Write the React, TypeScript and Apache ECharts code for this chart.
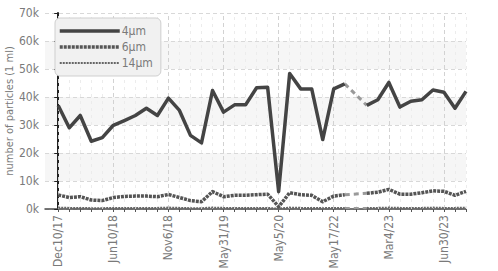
import React, { useEffect, useRef } from "react";
import * as echarts from "echarts";

// x positions are sample indices; labelled sample indices and their date labels
const tickIndex = [0, 5, 10, 15, 20, 25, 30, 35];
const tickLabels = ["Dec10/17", "Jun10/18", "Nov6/18", "May31/19", "May5/20", "May17/22", "Mar4/23", "Jun30/23"];

// particle counts per ml (null = missing sample)
const size4 = [37000, 29000, 33400, 24200, 25500, 29900, 31600, 33400, 36000, 33400, 39600, 35200, 26300, 23600, 42300, 34600, 37200, 37200, 43300, 43500, 6200, 48400, 42900, 42900, 24800, 42900, 44700, null, 37000, 39000, 45200, 36400, 38500, 39000, 42500, 41700, 36000, 42000];
const size6 = [5000, 4100, 4400, 3200, 3000, 4100, 4500, 4600, 4600, 4400, 5200, 4100, 3000, 2600, 6200, 4400, 4900, 4900, 5100, 5300, 800, 5800, 5100, 4900, 2600, 4600, 5100, null, 5600, 6000, 7000, 5300, 5300, 5800, 6500, 6300, 4900, 6300];
const size14 = [500, 400, 400, 300, 300, 400, 400, 400, 400, 400, 500, 400, 300, 300, 500, 400, 400, 400, 400, 400, 100, 500, 400, 400, 300, 400, 400, null, 400, 400, 500, 400, 400, 400, 500, 400, 400, 500];

const FONT = "'DejaVu Sans Condensed', 'Liberation Sans Narrow', 'Roboto', sans-serif";

function toPoints(arr: (number | null)[]) {
  return arr.map((v, i) => [i, v === null ? "-" : v]);
}

function gapPoints(arr: (number | null)[]) {
  const pts: any[] = [];
  arr.forEach((v, i) => {
    if (v === null) {
      let a = i - 1;
      while (a >= 0 && arr[a] === null) a--;
      let b = i + 1;
      while (b < arr.length && arr[b] === null) b++;
      if (a >= 0 && b < arr.length) {
        pts.push([a, arr[a]], [b, arr[b]], [b, "-"]);
      }
    }
  });
  return pts;
}

export default function App() {
  const ref = useRef<HTMLDivElement>(null);
  useEffect(() => {
    document.body.style.margin = "0";
    if (!ref.current) return;
    const chart = echarts.init(ref.current, undefined, { renderer: "svg" });
    const n = size4.length;
    const minorIdx = Array.from({ length: n }, (_, i) => i);
    const lineSeries = (name: string, arr: (number | null)[], width: number, type: any, color: string, z: number) => ({
      name,
      type: "line",
      data: toPoints(arr),
      symbol: "none",
      z,
      lineStyle: { width, type, color, cap: "butt", join: "round" },
      itemStyle: { color },
    });
    const gapSeries = (arr: (number | null)[], width: number) => ({
      name: "gap",
      type: "line",
      data: gapPoints(arr),
      symbol: "none",
      z: 2,
      lineStyle: { width, type: [5, 4], color: "#9a9a9a" },
    });
    chart.setOption({
      animation: false,
      grid: { left: 45, right: 32, top: 13, bottom: 62, outerBoundsMode: "none", containLabel: false },
      legend: {
        orient: "vertical",
        left: 55,
        top: 18,
        data: [
          { name: "4μm", lineStyle: { width: 3.5 } },
          { name: "6μm", lineStyle: { width: 3.5 } },
          { name: "14μm", lineStyle: { width: 2 } },
        ],
        itemWidth: 60,
        itemHeight: 12,
        itemGap: 4,
        padding: [7, 8, 7, 3],
        backgroundColor: "#f1f1f1",
        borderColor: "#cfcfcf",
        borderWidth: 1,
        borderRadius: 5,
        itemStyle: { opacity: 0 },
        textStyle: { color: "#7a7a7a", fontSize: 12, fontFamily: FONT, padding: [0, 0, 0, -3] },
      },
      xAxis: {
        type: "value",
        min: -1.2,
        max: 37,
        axisLine: { show: true, onZero: false, lineStyle: { color: "#4a4a4a", width: 1.5 } },
        axisTick: { show: true, customValues: minorIdx, length: 3, lineStyle: { color: "#555" } },
        axisLabel: {
          customValues: tickIndex,
          rotate: 90,
          color: "#7a7a7a",
          fontSize: 12,
          fontFamily: FONT,
          margin: 6,
          formatter: (v: number) => tickLabels[tickIndex.indexOf(Math.round(v))] ?? "",
        },
        splitLine: { show: false },
      },
      yAxis: {
        type: "value",
        min: 0,
        max: 70000,
        interval: 10000,
        name: "number of particles (1 ml)",
        nameLocation: "middle",
        nameGap: 30,
        nameMoveOverlap: false,
        nameTextStyle: { color: "#7a7a7a", fontSize: 11, fontFamily: FONT },
        axisLine: { show: true, lineStyle: { color: "#222", width: 2 } },
        axisTick: { show: true, length: 4, lineStyle: { color: "#222" } },
        axisLabel: {
          color: "#7a7a7a",
          fontSize: 12,
          fontFamily: FONT,
          margin: 6,
          formatter: (v: number) => v / 1000 + "k",
        },
        splitLine: { show: true, lineStyle: { color: "#d8d8d8", type: [4, 3] } },
        splitArea: { show: true, areaStyle: { color: ["rgba(255,255,255,0)", "#f6f6f6"] } },
      },
      series: [
        {
          name: "grid",
          type: "line",
          data: [],
          silent: true,
          markLine: {
            silent: true,
            z: 1,
            symbol: "none",
            label: { show: false },
            data: [
              ...minorIdx.filter((i) => !tickIndex.includes(i)).map((i) => ({ xAxis: i, lineStyle: { color: "#ececec", type: [3, 4], width: 1 } })),
              ...tickIndex.map((i) => ({ xAxis: i, lineStyle: { color: "#d2d2d2", type: [4, 3], width: 1 } })),
            ],
          },
        },
        gapSeries(size4, 3),
        gapSeries(size6, 3),
        gapSeries(size14, 2),
        lineSeries("14μm", size14, 2, [2, 1], "#666", 3),
        lineSeries("6μm", size6, 3.5, [3, 1], "#555", 4),
        lineSeries("4μm", size4, 3.5, "solid", "#444", 5),
      ],
    });
    return () => chart.dispose();
  }, []);
  return <div ref={ref} style={{ width: 498, height: 271 }} />;
}
